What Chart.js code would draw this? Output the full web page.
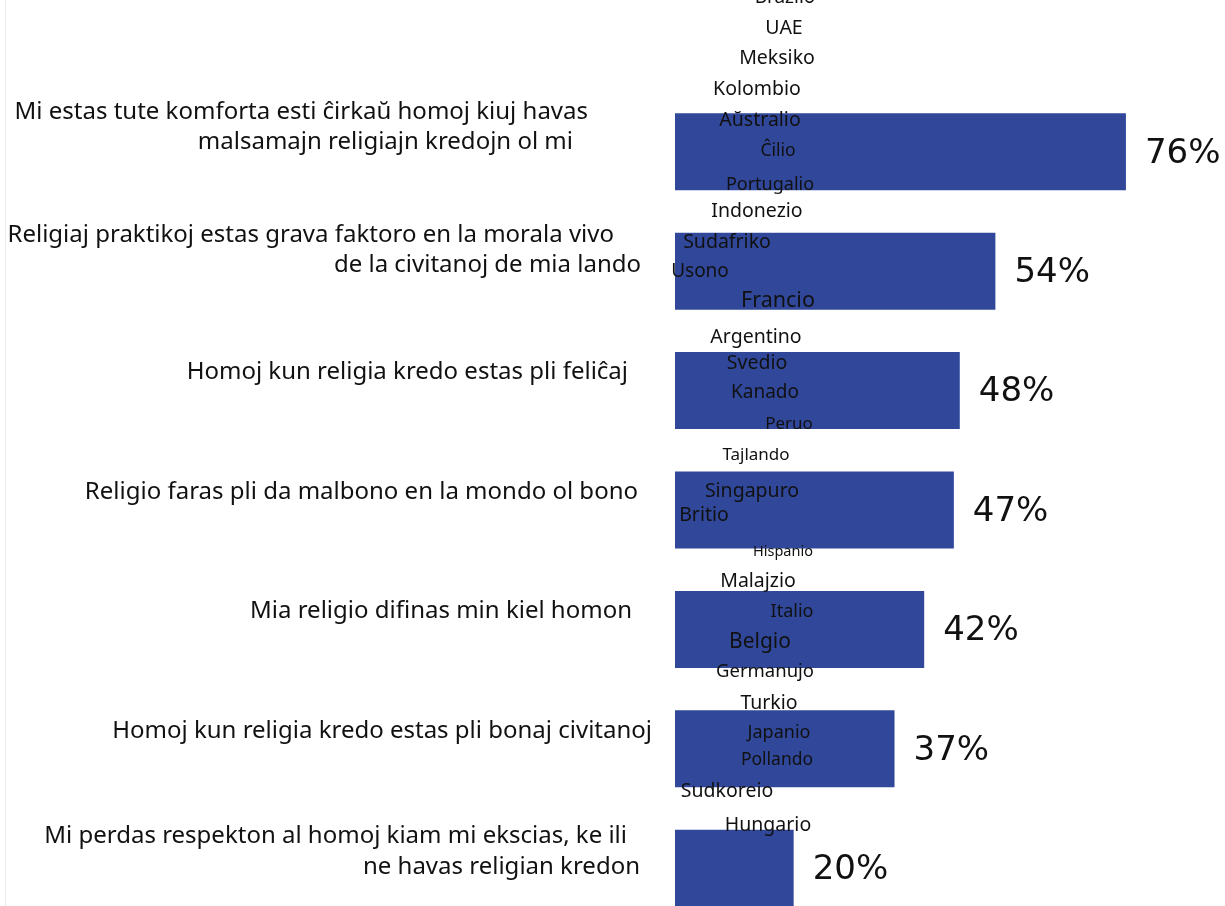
<!DOCTYPE html>
<html>
<head>
<meta charset="utf-8">
<script src="https://cdn.jsdelivr.net/npm/chart.js@4.4.0/dist/chart.umd.min.js"></script>
<style>
  html, body { margin: 0; padding: 0; background: #fff; overflow: hidden; }
  #wrap { position: relative; width: 1225px; height: 906px; overflow: hidden; }
  #edge { position: absolute; left: 5px; top: 0; width: 0; height: 906px; border-left: 1px solid #ececec; }
  canvas { position: absolute; left: 0; top: 0; }
</style>
</head>
<body>
<div id="wrap">
  <div id="edge"></div>
  <canvas id="religionChart" width="1225" height="928"></canvas>
</div>
<script>
const categories = [
    ['Mi estas tute komforta esti ĉirkaŭ homoj kiuj havas', 'malsamajn religiajn kredojn ol mi'],
    ['Religiaj praktikoj estas grava faktoro en la morala vivo', 'de la civitanoj de mia lando'],
    ['Homoj kun religia kredo estas pli feliĉaj'],
    ['Religio faras pli da malbono en la mondo ol bono'],
    ['Mia religio difinas min kiel homon'],
    ['Homoj kun religia kredo estas pli bonaj civitanoj'],
    ['Mi perdas respekton al homoj kiam mi ekscias, ke ili', 'ne havas religian kredon']
];
const values = [76, 54, 48, 47, 42, 37, 20];

const countries = [
    'Brazilo', 'UAE', 'Meksiko', 'Kolombio', 'Aŭstralio', 'Ĉilio', 'Portugalio',
    'Indonezio', 'Sudafriko', 'Usono', 'Francio', 'Argentino', 'Svedio', 'Kanado',
    'Peruo', 'Tajlando', 'Singapuro', 'Britio', 'Hispanio', 'Malajzio', 'Italio',
    'Belgio', 'Germanujo', 'Turkio', 'Japanio', 'Pollando', 'Sudkoreio', 'Hungario'
];

// category label layout: right edge of each line, and shift of the first line from the bar centre
// (the source does not align them evenly)
const labelEdges = [[588, 573], [614, 641], [628], [638], [632], [652], [627, 640]];
const labelShift = [-40, -36, -18, -18, -18, -18, -32];

// where each country name sits on the page: [centre x, centre y, font size]
const countrySpots = [
    [785, -2, 19], [784, 28, 19.5], [777, 58, 19.5], [757, 89, 19.5], [760, 120, 19.5],
    [778, 151, 17.5], [770, 185, 18], [757, 211, 19.5], [727, 242, 19.5], [700, 272, 19],
    [778, 301, 21.5], [756, 337, 19.5], [757, 363, 19.5], [765, 393, 19], [789, 424, 17],
    [756, 455, 17], [752, 491, 19.5], [704, 515, 19.5], [783, 552, 14.5], [758, 581, 19.5],
    [792, 612, 18], [760, 642, 21], [765, 672, 18.5], [769, 703, 19.5], [779, 733, 18],
    [777, 760, 17.5], [727, 791, 19.5], [768, 825, 19.5]
];

const categoryLabels = {
    id: 'categoryLabels',
    afterDraw(chart) {
        const c = chart.ctx;
        const y = chart.scales.y;
        c.save();
        c.font = '24px "Noto Sans"';
        c.fillStyle = '#111';
        c.textAlign = 'right';
        c.textBaseline = 'middle';
        categories.forEach((lines, i) => {
            const top = y.getPixelForValue(i) + labelShift[i];
            lines.forEach((line, j) => {
                c.fillText(line, labelEdges[i][j], top + j * 30.5);
            });
        });
        c.restore();
    }
};

const valueLabels = {
    id: 'valueLabels',
    afterDatasetsDraw(chart) {
        const c = chart.ctx;
        const meta = chart.getDatasetMeta(0);
        c.save();
        c.font = '34px "DejaVu Sans"';
        c.fillStyle = '#111';
        c.textAlign = 'left';
        c.textBaseline = 'middle';
        meta.data.forEach((bar, i) => {
            c.fillText(values[i] + '%', bar.x + 19, bar.y + 2);
        });
        c.restore();
    }
};

const countryNames = {
    id: 'countryNames',
    afterDraw(chart) {
        const c = chart.ctx;
        c.save();
        c.fillStyle = '#111';
        c.textAlign = 'center';
        c.textBaseline = 'middle';
        countries.forEach((name, i) => {
            const [x, y, size] = countrySpots[i];
            c.font = size + 'px "Noto Sans"';
            c.fillText(name, x, y);
        });
        c.restore();
    }
};

const ctx = document.getElementById('religionChart').getContext('2d');

new Chart(ctx, {
    type: 'bar',
    data: {
        labels: categories.map(l => l.join(' ')),
        datasets: [{
            data: values,
            backgroundColor: '#30479a',
            borderWidth: 0,
            categoryPercentage: 1,
            barPercentage: 0.645
        }]
    },
    options: {
        indexAxis: 'y',
        responsive: false,
        animation: false,
        layout: {
            padding: { top: 92, right: 0, bottom: 0, left: 0 }
        },
        plugins: {
            legend: { display: false },
            tooltip: { enabled: false }
        },
        scales: {
            x: {
                display: false,
                min: 0,
                max: 92.7
            },
            y: {
                afterFit(scale) {
                    scale.width = 675;
                },
                grid: { display: false, drawTicks: false },
                border: { display: false },
                ticks: { display: false }
            }
        }
    },
    plugins: [categoryLabels, valueLabels, countryNames]
});
</script>
</body>
</html>
